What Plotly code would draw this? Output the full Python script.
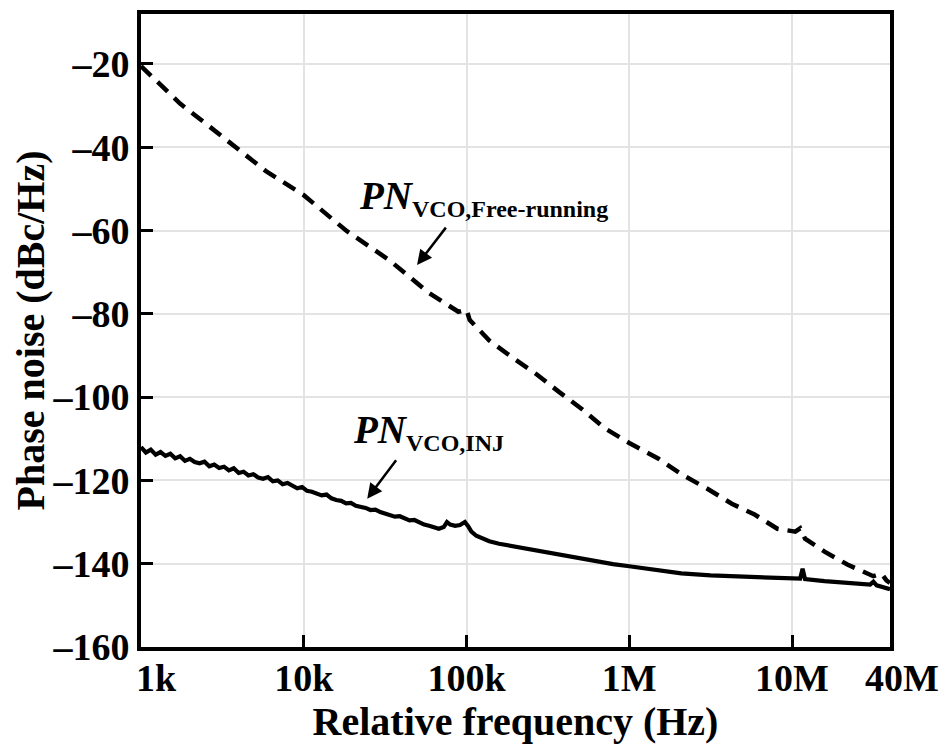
import numpy as np
import plotly.graph_objects as go

# ---- data (log10 of relative frequency in Hz, phase noise in dBc/Hz) ----
free_logf = [3.00, 3.24, 3.42, 3.61, 3.77, 4.00, 4.26, 4.525, 4.77, 4.95, 5.00, 5.02,
             5.14, 5.30, 5.43, 5.57, 5.71, 5.85, 6.00, 6.18, 6.32, 6.48, 6.63, 6.77,
             6.91, 7.02, 7.05, 7.08, 7.20, 7.34, 7.50, 7.55, 7.58, 7.602]
free_pn = [-20.5, -29.5, -35.0, -40.8, -45.8, -51.5, -60.0, -67.1, -75.0, -79.5, -79.0, -81.5,
           -86.4, -91.0, -94.5, -98.8, -102.9, -107.5, -111.0, -114.8, -118.5, -122.0, -125.6, -128.2,
           -131.6, -132.3, -131.5, -134.0, -137.1, -140.2, -143.0, -142.4, -144.0, -144.6]

inj_logf = [3.00, 3.03, 3.06, 3.09, 3.12, 3.15, 3.18, 3.21, 3.24, 3.27, 3.30, 3.33, 3.36, 3.39,
            3.42, 3.45, 3.48, 3.51, 3.54, 3.57, 3.60, 3.63, 3.66, 3.69, 3.72, 3.75, 3.78, 3.81,
            3.84, 3.87, 3.90, 3.93, 3.96, 3.99, 4.02, 4.05, 4.08, 4.11, 4.14, 4.17, 4.20, 4.23,
            4.26, 4.29, 4.32, 4.35, 4.38, 4.41, 4.44, 4.47, 4.50, 4.53, 4.56, 4.59, 4.62, 4.65,
            4.68, 4.71, 4.74, 4.77, 4.80, 4.83, 4.86, 4.88, 4.90, 4.93, 4.96, 4.99, 5.01, 5.03,
            5.06, 5.10, 5.14, 5.20, 5.30, 5.36, 5.45, 5.55, 5.67, 5.80, 5.90, 6.00, 6.15, 6.32,
            6.50, 6.65, 6.80, 6.90, 6.99, 7.05, 7.065, 7.08, 7.20, 7.40, 7.48, 7.50, 7.52, 7.602]
inj_pn = [-112.0, -113.3, -112.6, -113.8, -113.2, -114.1, -113.6, -114.7, -114.2, -115.3, -114.8, -115.6, -115.9, -115.5,
          -116.6, -116.2, -117.0, -116.7, -117.6, -117.1, -118.2, -117.9, -118.8, -118.5, -119.3, -119.6, -119.2, -120.2,
          -120.0, -120.9, -120.6, -121.4, -121.9, -121.6, -122.5, -122.7, -123.1, -123.6, -123.4, -124.3, -124.7, -124.9,
          -125.5, -125.4, -126.1, -126.3, -126.6, -127.1, -127.0, -127.6, -128.0, -128.2, -128.7, -128.6, -129.2, -129.6,
          -129.5, -130.1, -130.6, -130.9, -131.3, -131.6, -131.2, -130.0, -130.6, -130.9, -130.7, -130.0, -131.0, -132.3,
          -133.3, -134.0, -134.6, -135.2, -135.9, -136.4, -137.1, -137.9, -138.7, -139.6, -140.1, -140.6, -141.5, -142.3,
          -142.8, -143.0, -143.3, -143.4, -143.5, -143.6, -141.2, -143.7, -144.2, -144.9, -145.0, -144.3, -145.2, -146.1]

x_tickvals = [1e4, 1e5, 1e6, 1e7]
x_ticktext = ["10k", "100k", "1M", "10M"]
x_edge_labels = [(1e3, "1k"), (4e7, "40M")]
y_tickvals = [-20, -40, -60, -80, -100, -120, -140, -160]
y_ticktext = ["\u2013" + str(abs(v)) for v in y_tickvals]

FONT = "Liberation Serif"

free_f = [10 ** v for v in free_logf]
inj_f = [10 ** v for v in inj_logf]

fig = go.Figure()
fig.add_trace(go.Scatter(x=free_f, y=free_pn, mode="lines",
                         line=dict(color="black", width=4.5, dash="14px,9px"),
                         showlegend=False))
fig.add_trace(go.Scatter(x=inj_f, y=inj_pn, mode="lines",
                         line=dict(color="black", width=4.2),
                         showlegend=False))

tickfont = dict(family=FONT, size=38, color="black", weight="bold")
titlefont = dict(family=FONT, size=40, color="black", weight="bold")

fig.update_xaxes(type="log", range=[3, np.log10(4e7)],
                 tickvals=x_tickvals, ticktext=x_ticktext, tickfont=tickfont,
                 ticks="inside", ticklen=12, tickwidth=3, tickcolor="black",
                 ticklabelstandoff=-6,
                 showline=True, linecolor="black", linewidth=4, mirror=True,
                 showgrid=True, gridcolor="#e3e3e3", gridwidth=2,
                 zeroline=False,
                 title=dict(text="Relative frequency (Hz)", font=titlefont, standoff=8))
fig.update_yaxes(range=[-160, -8],
                 tickvals=y_tickvals, ticktext=y_ticktext, tickfont=tickfont,
                 ticks="inside", ticklen=12, tickwidth=3, tickcolor="black",
                 showline=True, linecolor="black", linewidth=4, mirror=True,
                 showgrid=True, gridcolor="#e3e3e3", gridwidth=2,
                 zeroline=False,
                 title=dict(text="Phase noise (dBc/Hz)", font=titlefont, standoff=8))

for xv, txt in x_edge_labels:
    fig.add_annotation(x=np.log10(xv), y=0, xref="x", yref="paper", text=txt,
                       showarrow=False, yanchor="top", yshift=-8,
                       xshift=15 if xv < 1e4 else 12,
                       font=tickfont)

# curve labels with arrows
sub_style = "font-size:24px"
fig.add_annotation(x=5.107, y=-52.3, xref="x", yref="y",
                   text="<i>PN</i><sub><span style='%s'>VCO,Free-running</span></sub>" % sub_style,
                   showarrow=False,
                   font=dict(family=FONT, size=39, color="black", weight="bold"))
fig.add_annotation(x=4.764, y=-108.4, xref="x", yref="y",
                   text="<i>PN</i><sub><span style='%s'>VCO,INJ</span></sub>" % sub_style,
                   showarrow=False,
                   font=dict(family=FONT, size=39, color="black", weight="bold"))
fig.add_annotation(x=4.696, y=-68.3, xref="x", yref="y", text="",
                   showarrow=True, ax=30, ay=-39, arrowhead=2, arrowsize=1.2,
                   arrowwidth=2.5, arrowcolor="black")
fig.add_annotation(x=4.39, y=-124.4, xref="x", yref="y", text="",
                   showarrow=True, ax=30, ay=-40, arrowhead=2, arrowsize=1.2,
                   arrowwidth=2.5, arrowcolor="black")

# page body has an 8px margin, so the figure is sized/offset accordingly
fig.update_layout(width=941, height=741,
                  margin=dict(l=133, r=59, t=2, b=102),
                  plot_bgcolor="white", paper_bgcolor="white")

fig.write_html("out.html")
